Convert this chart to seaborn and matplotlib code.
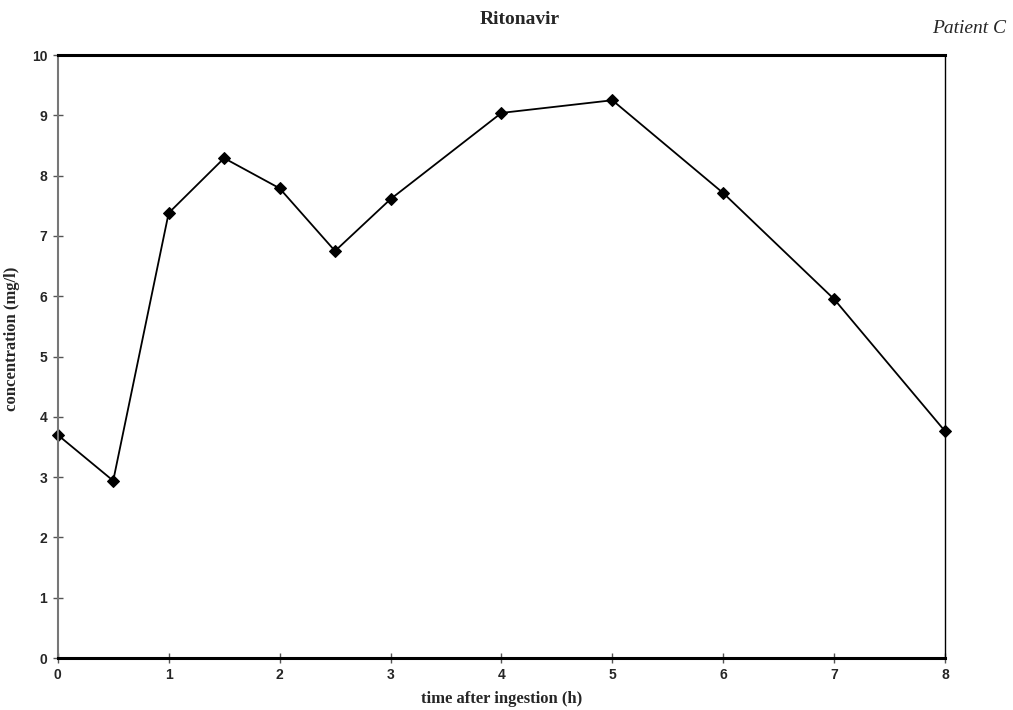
import matplotlib
matplotlib.use("Agg")
import matplotlib.pyplot as plt
import seaborn as sns
import pandas as pd

time_h = [0, 0.5, 1, 1.5, 2, 2.5, 3, 4, 5, 6, 7, 8]
conc = [3.70, 2.94, 7.38, 8.29, 7.79, 6.75, 7.61, 9.04, 9.25, 7.71, 5.95, 3.76]
xticks = [0, 1, 2, 3, 4, 5, 6, 7, 8]
yticks = [0, 1, 2, 3, 4, 5, 6, 7, 8, 9, 10]

sns.set_style("white")
plt.rcParams['font.family'] = ['Liberation Sans', 'DejaVu Sans']

df = pd.DataFrame({"t": time_h, "c": conc})
fig = plt.figure(figsize=(10.13, 7.10), dpi=100)
ax = fig.add_axes([0.057, 0.0732, 0.876, 0.8493])
sns.lineplot(data=df, x="t", y="c", ax=ax, color="black", linewidth=1.3,
             marker="D", markersize=6, markeredgecolor="black", clip_on=False)

ax.set_xlim(0, 8)
ax.set_ylim(0, 10)
ax.set_xticks(xticks)
ax.set_yticks(yticks)
ax.set_xticklabels([str(v) for v in xticks], fontsize=10, fontweight="bold")
ax.set_yticklabels([str(v) for v in yticks], fontsize=10, fontweight="bold")
ax.tick_params(axis="both", direction="inout", length=7, width=1, color="#555555", pad=4)
ax.tick_params(axis="y", left=True)
ax.tick_params(axis="x", bottom=True)

ax.spines["top"].set_color("black")
ax.spines["top"].set_linewidth(2.2)
ax.spines["bottom"].set_color("black")
ax.spines["bottom"].set_linewidth(2.2)
ax.spines["left"].set_color("#777777")
ax.spines["left"].set_linewidth(1.5)
ax.spines["right"].set_color("black")
ax.spines["right"].set_linewidth(1.0)
for s in ax.spines.values():
    s.set_visible(True)

ax.set_xlabel("time after ingestion (h)", fontsize=12, fontweight="bold",
              family=["Liberation Serif"], labelpad=6)
ax.set_ylabel("concentration (mg/l)", fontsize=12, fontweight="bold",
              family=["Liberation Serif"], labelpad=2)
ax.yaxis.set_label_coords(-0.043, 0.53)

fig.text(0.513, 0.972, "Ritonavir", ha="center", va="center", fontsize=14,
         fontweight="bold", family=["Liberation Serif"])
fig.text(0.957, 0.960, "Patient C", ha="center", va="center", fontsize=14,
         style="italic", family=["Liberation Serif"])

fig.savefig("out.png", dpi=100)
